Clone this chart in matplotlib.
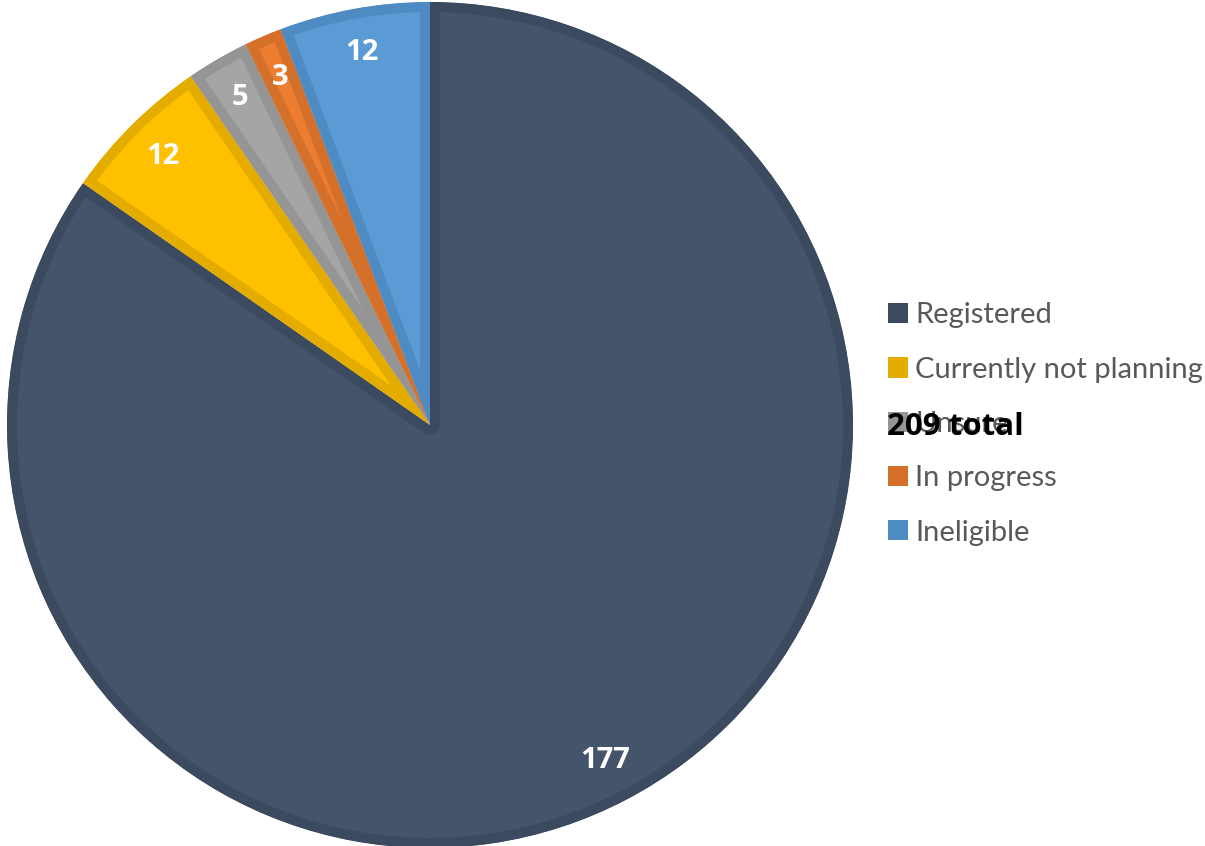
import matplotlib
matplotlib.use("Agg")
import matplotlib.pyplot as plt
from matplotlib.patches import Patch
import numpy as np

categories = ["Registered", "Currently not planning", "Unsure", "In progress", "Ineligible"]
values = [177, 12, 5, 3, 12]
total_label = "209 total"

fill_colors = ["#44546A", "#FFC000", "#A5A5A5", "#ED7D31", "#5B9BD5"]
edge_colors = ["#3B4A5E", "#E5AC00", "#959595", "#D5702B", "#4F8BC3"]

W, H = 1205, 846
fig = plt.figure(figsize=(W / 100, H / 100), dpi=100)
ax = fig.add_axes([7 / W, -2 / H, 846 / W, 846 / H])

wedges, _ = ax.pie(values, startangle=90, counterclock=False, colors=fill_colors,
                   radius=1.0, wedgeprops=dict(linewidth=0))
for w, ec in zip(wedges, edge_colors):
    w.set_edgecolor(ec)
    w.set_linewidth(14.4)
    w.set_joinstyle("round")
    w.set_clip_on(True)
    w.set_clip_path(w)

for w, v in zip(wedges, values):
    ang = np.deg2rad((w.theta1 + w.theta2) / 2)
    r = 0.895
    ax.text(r * np.cos(ang), r * np.sin(ang), str(v), ha="center", va="center",
            color="white", fontsize=21, fontweight="bold", family="Open Sans")

ax.set_xlim(-1, 1)
ax.set_ylim(-1, 1)
ax.set_aspect("equal")
ax.axis("off")

handles = [Patch(facecolor=c, edgecolor="none") for c in edge_colors]
leg = fig.legend(handles, categories, loc="center left",
                 bbox_to_anchor=(888 / W, 1 - 424 / H), frameon=False,
                 prop=dict(family="Lato", size=21), labelcolor="#595959",
                 handlelength=0.69, handleheight=0.69, handletextpad=0.25,
                 labelspacing=0.97, borderpad=0, borderaxespad=0)

fig.text(887 / W, 1 - 427 / H, total_label, ha="left", va="center",
         fontsize=22.5, fontweight="bold", family="Open Sans", color="black", zorder=10)

fig.savefig("out.png", dpi=100)
